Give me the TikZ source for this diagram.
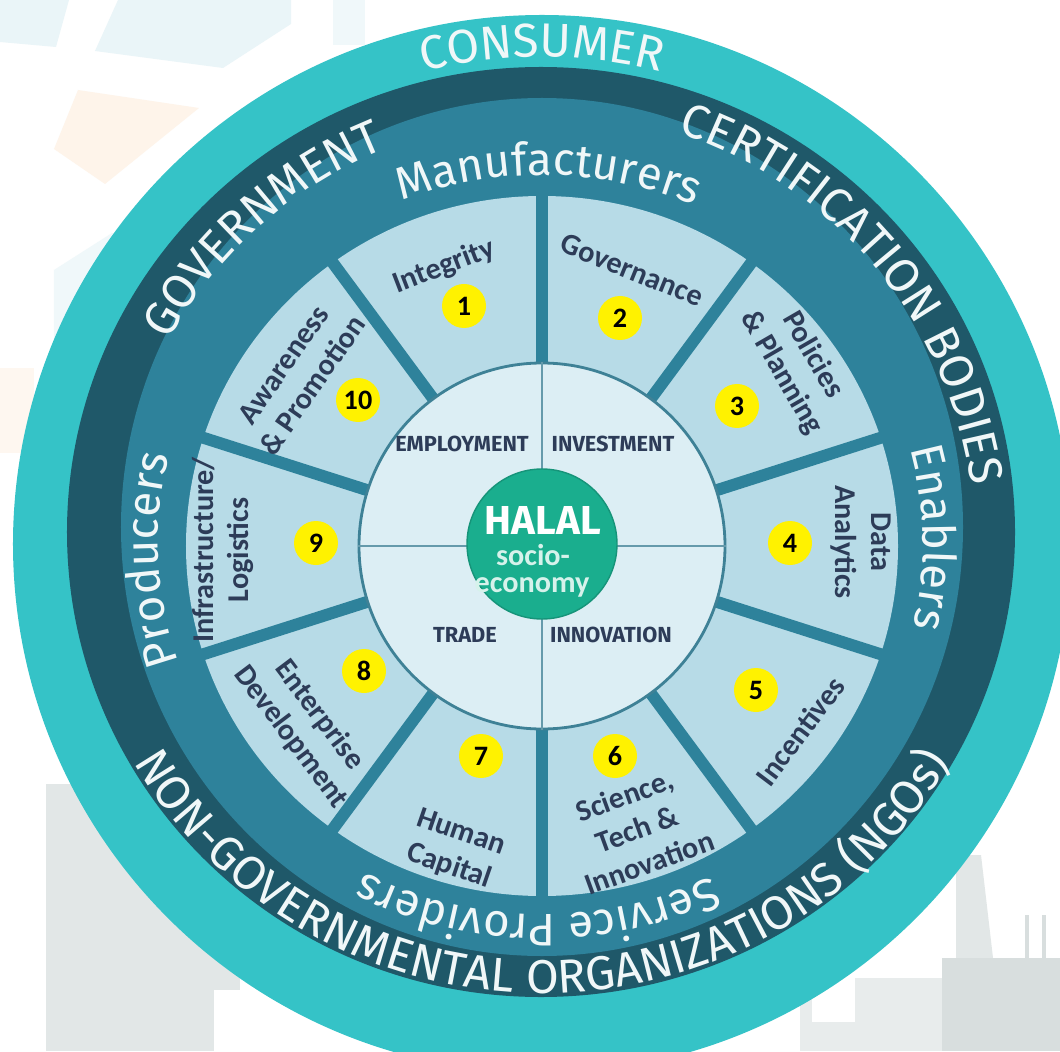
\documentclass[tikz,border=0pt]{standalone}
\usepackage{fontspec}
\setmainfont{Carlito}
\newfontfamily\ringfont{Fira Sans}
\usetikzlibrary{decorations.text,positioning}

\definecolor{ringteal}{HTML}{35C3C7}
\definecolor{ringnavy}{HTML}{1F5869}
\definecolor{ringmid}{HTML}{2E829B}
\definecolor{sectorblue}{HTML}{B7DBE7}
\definecolor{coreblue}{HTML}{DCEEF4}
\definecolor{coreline}{HTML}{3E8196}
\definecolor{halalgreen}{HTML}{1AAE8E}
\definecolor{dotyellow}{HTML}{FFF200}
\definecolor{labelink}{HTML}{2D3C58}
\definecolor{ringwhite}{HTML}{F0F7F8}
\definecolor{mintwhite}{HTML}{D6F2EB}
\definecolor{bgcyan}{HTML}{EAF5F8}
\definecolor{bgpeach}{HTML}{FEF4EA}
\definecolor{bggrey}{HTML}{E2E7E7}
\definecolor{bgdark}{HTML}{D8DEDE}

\tikzset{
  spoke/.style={ringmid, line width=3.4pt},
  core/.style={circle, draw=coreline, line width=0.8pt, fill=coreblue, minimum size=3.66cm, inner sep=0pt},
  hub/.style={circle, draw=halalgreen!85!black, line width=0.4pt, fill=halalgreen, minimum size=1.5cm, inner sep=0pt},
  quadline/.style={coreline!80, line width=0.6pt},
  numdot/.style={circle, fill=dotyellow, minimum size=4.4mm, inner sep=0pt, text=black, font=\fontsize{8}{9}\selectfont\bfseries},
  sectorlabel/.style={align=center, text=labelink, inner sep=0pt, font=\fontsize{8.6}{10.2}\selectfont\bfseries},
  corelabel/.style={text=labelink, inner sep=0pt, font=\ringfont\fontsize{6.2}{7}\selectfont\bfseries},
  ringtext/.style={decorate, decoration={text along path, text align=center, text color=ringwhite,
    text={|\ringfont\fontsize{13.5}{14}\selectfont|#1}}},
  bandtext/.style={decorate, decoration={text along path, text align=center, text color=ringwhite,
    text={|\ringfont\fontsize{13}{14}\selectfont|#1}}},
}

\begin{document}
\begin{tikzpicture}
\useasboundingbox (-5.42,-5.07) rectangle (5.18,5.44);
\clip (-5.42,-5.07) rectangle (5.18,5.44);
\fill[white] (-5.42,-5.07) rectangle (5.18,5.44);

% faint backdrop
\fill[bgcyan] (-5.42,5.44) -- (-4.73,5.44) -- (-4.86,4.97) -- (-5.42,5.02) -- cycle;
\fill[bgcyan] (-4.24,5.44) -- (-2.51,5.44) -- (-2.51,5.20) -- (-3.19,4.76) -- (-4.47,4.93) -- cycle;
\fill[bgcyan!70] (-2.09,5.44) rectangle (-1.77,4.99);
\fill[bgpeach] (-4.88,3.95) -- (-4.64,4.54) -- (-3.43,4.36) -- (-4.37,3.60) -- cycle;
\fill[bgcyan!70] (-4.88,2.74) -- (-4.30,3.11) -- (-3.92,3.04) -- (-4.88,2.04) -- cycle;
\fill[bgpeach!70] (-5.42,1.76) -- (-5.08,1.76) -- (-5.08,0.91) -- (-5.42,0.91) -- cycle;
\fill[bggrey] (-4.96,-2.40) rectangle (-3.02,-5.07);
\fill[white] (-3.28,-4.46) rectangle (-2.85,-5.07);
\fill[bggrey!80] (2.58,-4.34) rectangle (4.00,-5.07);
\fill[white] (2.70,-4.34) rectangle (3.13,-4.78);
\fill[bggrey] (4.14,-3.11) -- (4.39,-3.11) -- (4.51,-4.14) -- (4.14,-4.14) -- cycle;
\fill[bgdark] (4.00,-4.14) rectangle (5.18,-5.07);
\draw[bgdark, line width=1pt] (4.85,-3.71) -- (4.85,-4.14);
\draw[bgdark, line width=1pt] (5.02,-3.71) -- (5.02,-4.14);

% rings
\fill[ringteal] (0,0) circle (5.29);
\fill[ringnavy] (-0.01,0.12) ellipse (4.74 and 4.65);
\fill[ringmid] (0,0.17) ellipse (4.21 and 4.29);
\fill[sectorblue] (0,-0.02) ellipse (3.56 and 3.50);
\foreach \a in {90,54,...,-234}
  \draw[spoke] (0,-0.02) -- ++(\a:3.64 and 3.58);

\path[ringtext=CONSUMER] (130:4.87) arc[start angle=130, end angle=50, radius=4.87];
\path[ringtext=GOVERNMENT] (171.5:4.25) arc[start angle=171.5, end angle=91.5, radius=4.25];
\path[ringtext=CERTIFICATION BODIES] (89.7:4.33) arc[start angle=89.7, end angle=-10.3, radius=4.33];
\path[ringtext=NON-GOVERNMENTAL ORGANIZATIONS (NGOs)] (195:4.67 and 4.49)
  arc[start angle=195, end angle=345, x radius=4.67, y radius=4.49];
\path[bandtext=Manufacturers] (129:3.81 and 3.69) arc[start angle=129, end angle=49, x radius=3.81, y radius=3.69];
\path[bandtext=Enablers] (41:3.81 and 3.69) arc[start angle=41, end angle=-39, x radius=3.81, y radius=3.69];
\path[bandtext=Service Providers] (-50.7:3.81 and 3.71) arc[start angle=-50.7, end angle=-130.7, x radius=3.81, y radius=3.71];
\path[bandtext=Producers] (222.4:3.84 and 3.69) arc[start angle=222.4, end angle=142.4, x radius=3.84, y radius=3.69];

% core
\node[core] (core) at (0,-0.02) {};
\draw[quadline] (core.north) -- (core.south);
\draw[quadline] (core.west) -- (core.east);
\node[hub] (hub) at (0,0) {};
\node[text=white, inner sep=0pt, font=\ringfont\fontsize{11.5}{12}\selectfont\bfseries] (halal) at (0.01,0.24) {HALAL};
\node[text=mintwhite, inner sep=0pt, font=\fontsize{8.6}{9}\selectfont\bfseries] (socio) at (-0.09,-0.11) {socio-};
\node[text=mintwhite, inner sep=0pt, font=\fontsize{8.6}{9}\selectfont\bfseries] (economy) at (-0.10,-0.43) {economy};

\node[corelabel] (employment) at (-0.80,1.00) {EMPLOYMENT};
\node[corelabel] (investment) at (0.71,1.00) {INVESTMENT};
\node[corelabel] (trade) at (-0.77,-0.91) {TRADE};
\node[corelabel] (innovation) at (0.69,-0.91) {INNOVATION};

% sectors
\node[sectorlabel, rotate=21] (integrity) at (-0.98,2.77) {Integrity};
\node[sectorlabel, rotate=-22] (governance) at (0.90,2.74) {Governance};
\node[sectorlabel, rotate=-60] (policies) at (2.55,1.80) {Policies\\\& Planning};
\node[sectorlabel, rotate=-90] (analytics) at (3.19,0.02) {Data\\Analytics};
\node[sectorlabel, rotate=53] (incentives) at (2.58,-1.87) {Incentives};
\node[sectorlabel, rotate=20] (science) at (0.95,-2.85) {Science,\\Tech \&\\Innovation};
\node[sectorlabel, rotate=-19] (capital) at (-0.87,-3.06) {Human\\Capital};
\node[sectorlabel, rotate=-53] (enterprise) at (-2.37,-1.82) {Enterprise\\Development};
\node[sectorlabel, rotate=90] (logistics) at (-3.19,-0.06) {Infrastructure/\\Logistics};
\node[sectorlabel, rotate=55] (awareness) at (-2.44,1.69) {Awareness\\\& Promotion};

\node[numdot] (n1) at (-0.78,2.38) {1};
\node[numdot] (n2) at (0.78,2.26) {2};
\node[numdot] (n3) at (1.95,1.38) {3};
\node[numdot] (n4) at (2.48,0.01) {4};
\node[numdot] (n5) at (2.14,-1.46) {5};
\node[numdot] (n6) at (0.73,-2.12) {6};
\node[numdot] (n7) at (-0.61,-2.12) {7};
\node[numdot] (n8) at (-1.78,-1.27) {8};
\node[numdot] (n9) at (-2.26,0.01) {9};
\node[numdot] (n10) at (-1.84,1.44) {10};
\end{tikzpicture}
\end{document}
